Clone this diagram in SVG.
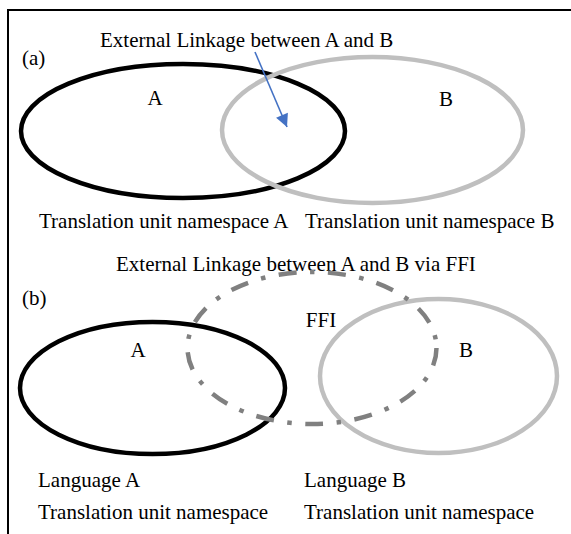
<svg xmlns="http://www.w3.org/2000/svg" width="571" height="534" viewBox="0 0 571 534">
<style>
text{font-family:"Liberation Serif","Times New Roman",serif;font-size:21px;fill:#000}
.a{fill:none;stroke:#000;stroke-width:4.5}
.b{fill:none;stroke:#bfbfbf;stroke-width:4.5}
.f{fill:none;stroke:#808080;stroke-width:4.5;stroke-dasharray:18 13.5 4.5 13.5}
</style>
<defs>
<marker id="ah" viewBox="0 0 10 10" refX="10" refY="5" markerWidth="9" markerHeight="8" orient="auto" markerUnits="strokeWidth">
<path d="M0,0 L10,5 L0,10 z" fill="#4472c4"/>
</marker>
</defs>
<path d="M8,534 V10 H571" fill="none" stroke="#000" stroke-width="2"/>
<g id="panel-a">
<text x="22" y="65">(a)</text>
<text x="100" y="47">External Linkage between A and B</text>
<g id="nodeA1"><ellipse class="a" cx="183" cy="131" rx="162" ry="67"/><text x="155" y="105" text-anchor="middle">A</text></g>
<g id="nodeB1"><ellipse class="b" cx="372.5" cy="130" rx="150.5" ry="73"/><text x="446" y="106" text-anchor="middle">B</text></g>
<text x="39" y="228">Translation unit namespace A</text>
<text x="305" y="228">Translation unit namespace B</text>
</g>
<g id="connectors">
<line x1="255" y1="52" x2="287" y2="127" stroke="#4472c4" stroke-width="1.6" marker-end="url(#ah)"/>
</g>
<g id="panel-b">
<text x="116" y="271">External Linkage between A and B via FFI</text>
<text x="22" y="305">(b)</text>
<g id="nodeA2"><ellipse class="a" cx="152.5" cy="388" rx="132.5" ry="66"/><text x="138" y="357" text-anchor="middle">A</text></g>
<g id="nodeB2"><ellipse class="b" cx="438.5" cy="376" rx="118.5" ry="77"/><text x="466" y="357" text-anchor="middle">B</text></g>
<g id="nodeFFI"><ellipse class="f" cx="312" cy="348" rx="124.5" ry="76"/><text x="321" y="327" text-anchor="middle">FFI</text></g>
<text x="38" y="487">Language A</text>
<text x="38" y="519">Translation unit namespace</text>
<text x="304" y="487">Language B</text>
<text x="304" y="519">Translation unit namespace</text>
</g>
</svg>
